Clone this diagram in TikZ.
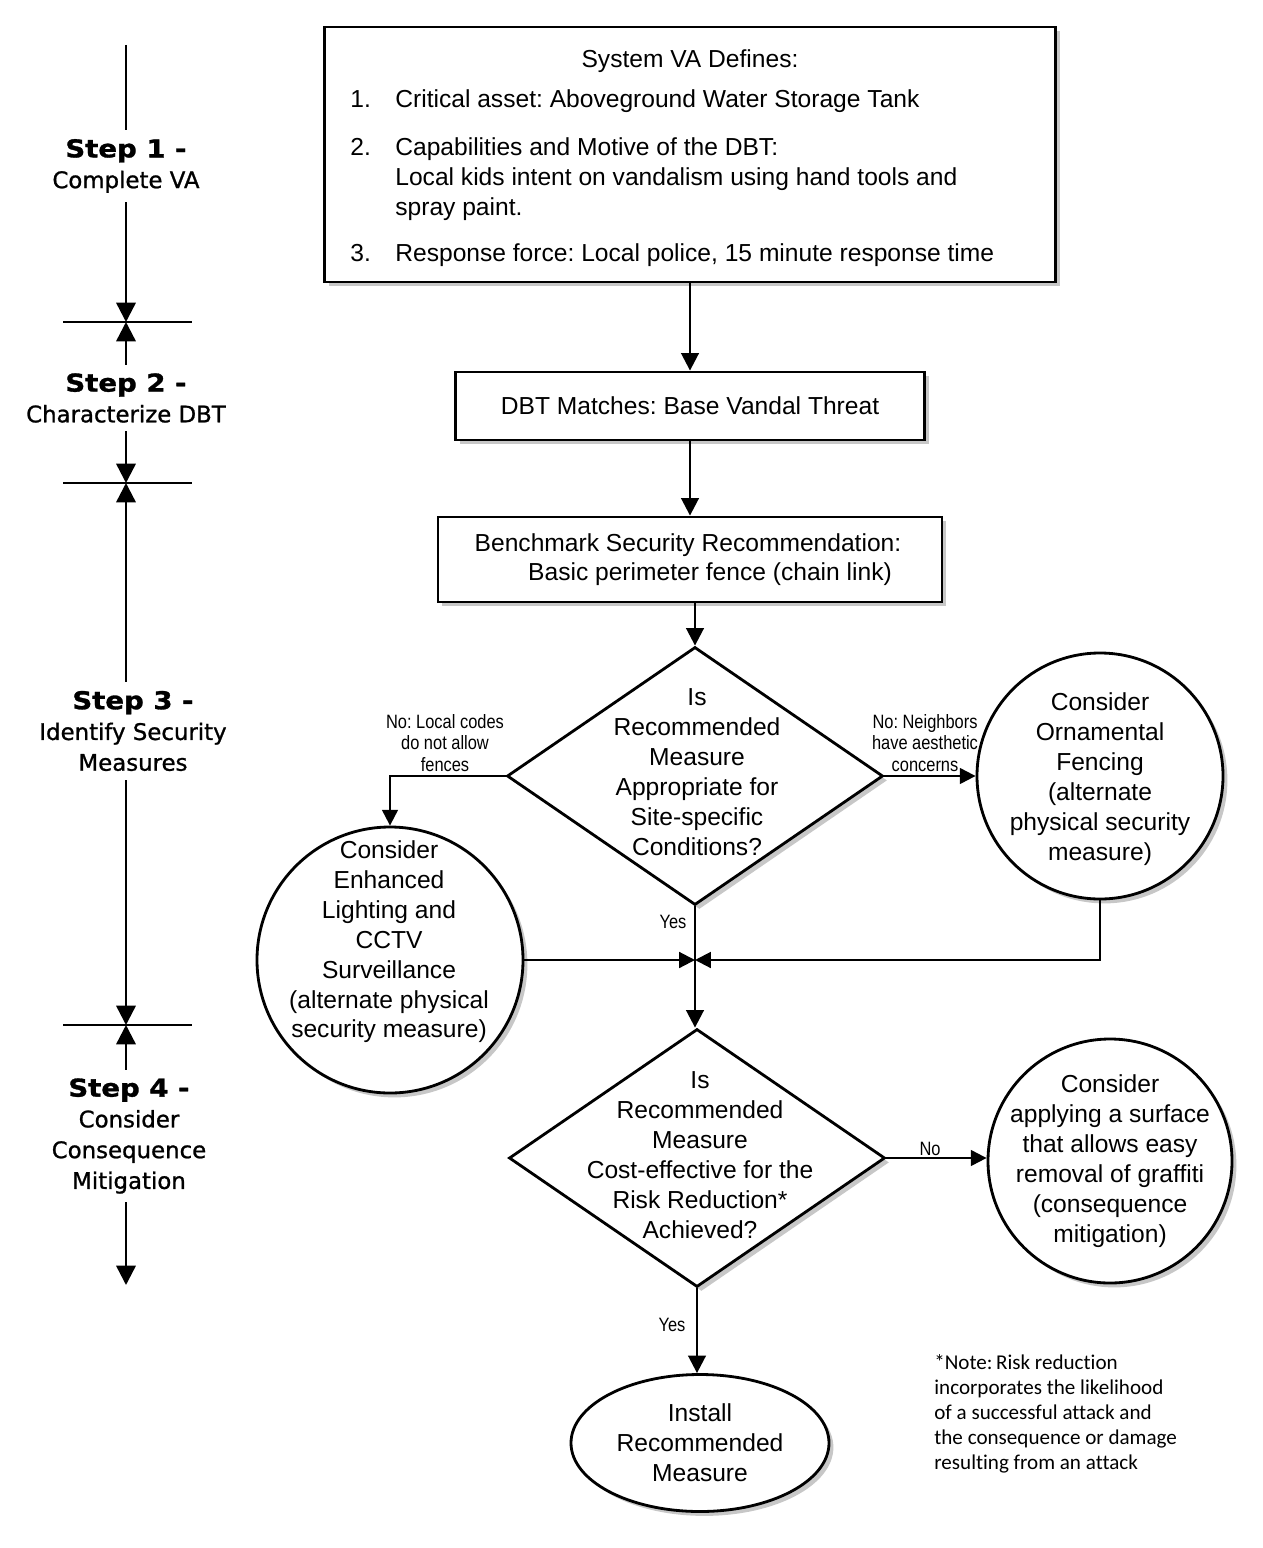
\documentclass[tikz,border=0pt]{standalone}
\usepackage{fontspec}
\setmainfont{Liberation Sans}
\newfontfamily\smallfont[FakeStretch=0.85]{Liberation Sans}
\newfontfamily\stepfont[FakeStretch=1.12,FakeBold=1.2]{DejaVu Sans}
\newfontfamily\subfont[FakeBold=1.0]{DejaVu Sans}
\newfontfamily\notefont[Ligatures=NoCommon]{Carlito}
\usetikzlibrary{shapes.geometric,arrows.meta,shadows}
\def\pxu{0.02cm}
\frenchspacing
\begin{document}
\begin{tikzpicture}[x=0.02cm,y=-0.02cm,
  txt/.style={font=\fontsize{14}{17}\selectfont, inner sep=0pt},
  sml/.style={font=\smallfont\fontsize{11}{12}\selectfont, inner sep=0pt, align=center},
  shd/.style={drop shadow={shadow xshift=2.5pt, shadow yshift=-2.5pt, opacity=0.22, fill=black}},
  pbox/.style={draw, line width=1.6pt, fill=white, rectangle, inner sep=0pt, shd},
  pdiam/.style={draw, line width=1.6pt, fill=white, diamond, inner sep=0pt, shd},
  pcirc/.style={draw, line width=1.6pt, fill=white, circle, inner sep=0pt, shd},
  pell/.style={draw, line width=1.6pt, fill=white, ellipse, inner sep=0pt, shd},
  flow/.style={line width=1.5pt, -{Triangle[length=10pt,width=10pt]}},
  side/.style={line width=1.2pt, -{Triangle[length=9pt,width=9pt]}},
  axis/.style={line width=1.4pt},
  axboth/.style={line width=1.4pt, {Triangle[length=11pt,width=11pt]}-{Triangle[length=11pt,width=11pt]}},
  axend/.style={line width=1.4pt, -{Triangle[length=11pt,width=11pt]}},
  steplbl/.style={fill=white, inner xsep=2pt, inner ysep=5pt, align=center, font=\subfont\fontsize{13}{17.5}\selectfont}
]
\useasboundingbox (0,0) rectangle (1262,1548);

% ---------- left step axis ----------
\coordinate (a0) at (126,45);
\coordinate (t1) at (126,322);
\coordinate (t2) at (126,483);
\coordinate (t3) at (126,1025);
\coordinate (a4) at (126,1285);
\draw[axend] (a0) -- (t1);
\draw[axboth] (t1) -- (t2);
\draw[axboth] (t2) -- (t3);
\draw[axboth] (t3) -- (a4);
\foreach \t in {t1,t2,t3}{
  \draw[axis] ([xshift=-63*\pxu]\t) -- ([xshift=66*\pxu]\t);
}
\node[steplbl] (s1) at (126,166) {{\stepfont\bfseries\fontsize{14}{17.5}\selectfont Step 1 -}\\Complete VA};
\node[steplbl] (s2) at (126,398) {{\stepfont\bfseries\fontsize{14}{17.5}\selectfont Step 2 -}\\Characterize DBT};
\node[steplbl] (s3) at (133,731) {{\stepfont\bfseries\fontsize{14}{17.5}\selectfont Step 3 -}\\Identify Security\\Measures};
\node[steplbl] (s4) at (129,1136) {{\stepfont\bfseries\fontsize{14}{17.5}\selectfont Step 4 -}\\Consider\\Consequence\\Mitigation};

% ---------- top box ----------
\node[pbox, minimum width=731*\pxu, minimum height=255*\pxu] (top) at (690,154.5) {};
\node[txt, anchor=base] (t0) at (690,68) {System VA Defines:};
\node[txt, anchor=base west] (n1) at (350,108) {1.};
\node[txt, anchor=base west] (i1) at (395,108) {Critical asset: Aboveground Water Storage Tank};
\node[txt, anchor=base west] (n2) at (350,155) {2.};
\node[txt, anchor=base west] (i2a) at (395,155) {Capabilities and Motive of the DBT:};
\node[txt, anchor=base west] (i2b) at (395,185) {Local kids intent on vandalism using hand tools and};
\node[txt, anchor=base west] (i2c) at (395,215) {spray paint.};
\node[txt, anchor=base west] (n3) at (350,261) {3.};
\node[txt, anchor=base west] (i3) at (395,261) {Response force: Local police, 15 minute response time};

% ---------- DBT box ----------
\node[pbox, txt, draw, line width=1.6pt, minimum width=469*\pxu, minimum height=68*\pxu] (dbt) at (690,406) {DBT Matches: Base Vandal Threat};

% ---------- Benchmark box ----------
\node[pbox, minimum width=504*\pxu, minimum height=85*\pxu] (bench) at (690,559.5) {};
\node[txt] (b1) at (688,545) {Benchmark Security Recommendation:};
\node[txt] (b2) at (710,574) {Basic perimeter fence (chain link)};

% ---------- diamond 1 ----------
\node[pdiam, minimum width=376*\pxu, minimum height=258*\pxu] (d1) at (695,776) {};
\node[txt, align=center] (d1t) at (697,772) {Is\\Recommended\\Measure\\Appropriate for\\Site-specific\\Conditions?};

% ---------- circles ----------
\node[pcirc, minimum size=246*\pxu] (rc1) at (1100,776) {};
\node[txt, align=center] (rc1t) at (1100,779) {Consider\\Ornamental\\Fencing\\(alternate\\physical security\\measure)};

\node[pcirc, minimum size=266*\pxu] (lc) at (390,960) {};
\node[txt, align=center] (lct) at (389,942) {Consider\\Enhanced\\Lighting and\\CCTV\\Surveillance\\(alternate physical\\security measure)};

% ---------- diamond 2 ----------
\node[pdiam, minimum width=376*\pxu, minimum height=258*\pxu] (d2) at (697,1158) {};
\node[txt, align=center] (d2t) at (700,1155) {Is\\Recommended\\Measure\\Cost-effective for the\\Risk Reduction*\\Achieved?};

\node[pcirc, minimum size=244*\pxu] (rc2) at (1110,1161) {};
\node[txt, align=center] (rc2t) at (1110,1161) {Consider\\applying a surface\\that allows easy\\removal of graffiti\\(consequence\\mitigation)};

% ---------- ellipse ----------
\node[pell, minimum width=258*\pxu, minimum height=137*\pxu] (el) at (700,1443) {};
\node[txt, align=center] (elt) at (700,1443) {Install\\Recommended\\Measure};

% ---------- connectors ----------
\coordinate (m) at (695,960);
\draw[flow] (top.south) -- (dbt.north);
\draw[flow] (dbt.south) -- (bench.north);
\draw[flow] (d1.north |- bench.south) -- (d1.north);
\draw[side] (d1.west) -| (lc.north);
\draw[side] (d1.east) -- (rc1.west);
\draw[side] (lc.east) -- (m);
\draw[side] (rc1.south) |- (m);
\draw[flow] (d1.south) -- (d1.south |- d2.north);
\draw[side] (d2.east) -- (d2.east -| rc2.west);
\draw[flow] (d2.south) -- (d2.south |- el.north);

% ---------- connector labels ----------
\node[sml] (lno) at (445,743) {No: Local codes\\do not allow\\fences};
\node[sml] (rno) at (925,743) {No: Neighbors\\have aesthetic\\concerns};
\node[sml] (y1) at (673,922) {Yes};
\node[sml] (no2) at (930,1149) {No};
\node[sml] (y2) at (672,1325) {Yes};

% ---------- note ----------
\node[anchor=north west, align=left, inner sep=0pt, font=\notefont\fontsize{12}{14.2}\selectfont] (note) at (934,1354) {*Note:\,Risk reduction\\incorporates the likelihood\\of a successful attack and\\the consequence or damage\\resulting from an attack};
\end{tikzpicture}
\end{document}
